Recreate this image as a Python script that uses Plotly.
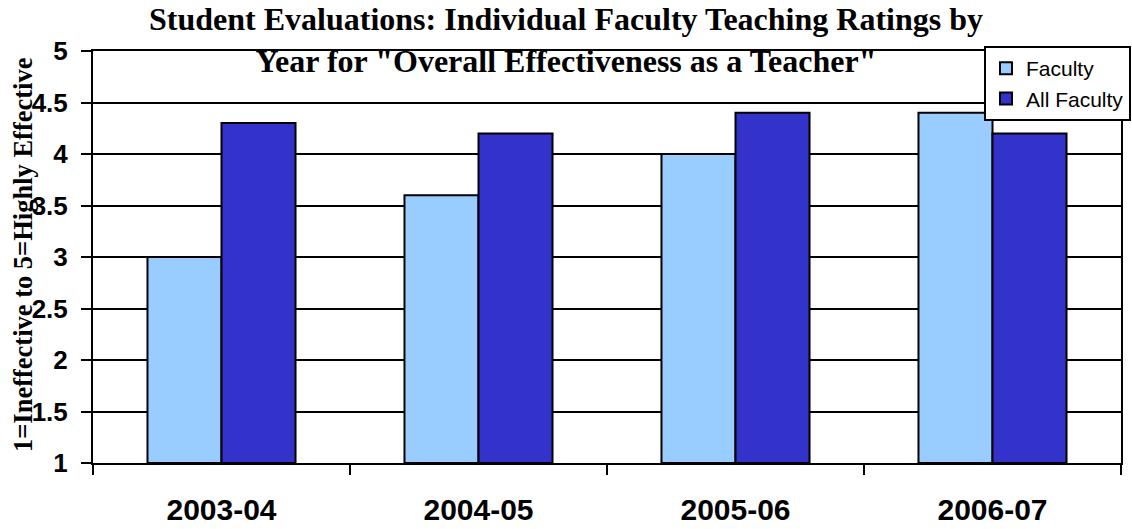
import plotly.graph_objects as go

years = ["2003-04", "2004-05", "2005-06", "2006-07"]
faculty = [3.0, 3.6, 4.0, 4.4]
all_faculty = [4.3, 4.2, 4.4, 4.2]
y_ticks = [1, 1.5, 2, 2.5, 3, 3.5, 4, 4.5, 5]
y_tick_labels = ["1", "1.5", "2", "2.5", "3", "3.5", "4", "4.5", "5"]

fig = go.Figure()
fig.add_trace(go.Bar(x=years, y=[v - 1 for v in faculty], base=1, name="Faculty",
                     marker=dict(color="#99CCFF", line=dict(color="black", width=2))))
fig.add_trace(go.Bar(x=years, y=[v - 1 for v in all_faculty], base=1, name="All Faculty",
                     marker=dict(color="#3333CC", line=dict(color="black", width=2))))

fig.update_layout(
    width=1132, height=529,
    paper_bgcolor="white", plot_bgcolor="white",
    margin=dict(l=93, r=11, t=51, b=66, autoexpand=False),
    barmode="group", bargap=0.424, bargroupgap=0,
    title=dict(text='Student Evaluations: Individual Faculty Teaching Ratings by<br>Year for "Overall Effectiveness as a Teacher"',
               x=0.5, xanchor="center", y=0.943, yanchor="top",
               font=dict(family="Liberation Serif", size=32, color="black", weight="bold")),
    legend=dict(xref="container", yref="container", x=0.9991, xanchor="right",
                y=0.913, yanchor="top",
                bgcolor="white", bordercolor="black", borderwidth=2,
                font=dict(family="Liberation Sans", size=21, color="black")),
    showlegend=True,
    annotations=[dict(text="1=Ineffective to 5=Highly Effective", textangle=-90,
                      xref="paper", yref="paper", x=(23 - 93) / 1028, y=(463 - 255) / 412,
                      xanchor="center", yanchor="middle", showarrow=False,
                      font=dict(family="Liberation Serif", size=26.5, color="black", weight="bold"))],
)
fig.update_xaxes(type="category", tickson="boundaries", ticks="outside", ticklen=10,
                 tickwidth=2, tickcolor="black", showline=True, linecolor="black", linewidth=2,
                 mirror=True, showgrid=False, ticklabelstandoff=19, automargin=False,
                 tickfont=dict(family="Liberation Sans", size=30, color="black", weight="bold"))
fig.update_yaxes(range=[1, 5], tickvals=y_ticks, ticktext=y_tick_labels, ticks="outside",
                 ticklen=10, tickwidth=2, tickcolor="black", showline=True, linecolor="black",
                 linewidth=2, mirror=True, showgrid=True, gridcolor="black", gridwidth=2,
                 zeroline=False, automargin=False, ticklabelstandoff=8,
                 tickfont=dict(family="Liberation Sans", size=26, color="black", weight="bold"))

fig.write_html("out.html", post_script="document.body.style.margin='0';",
               config={"displayModeBar": False})
